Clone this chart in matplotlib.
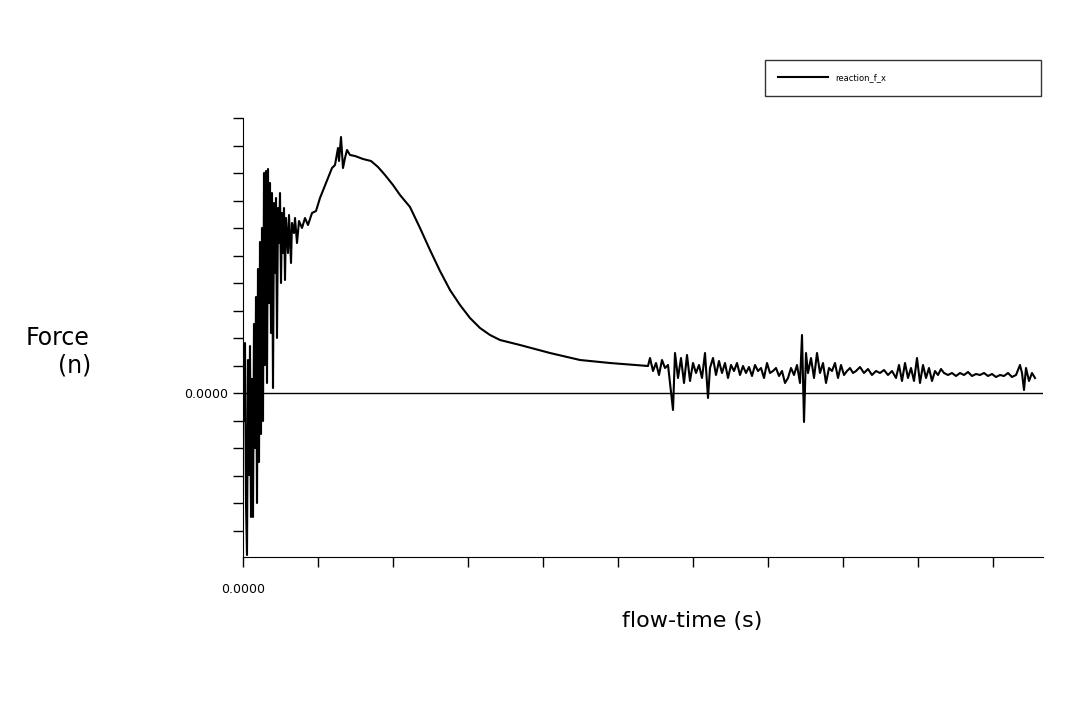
import matplotlib
matplotlib.use("Agg")
import matplotlib.pyplot as plt
from matplotlib.ticker import MultipleLocator, FixedLocator

# flow-time in arbitrary units (axis spans 0..800), force in arbitrary units (zero at 0)
flow_time = [
    0, 1, 2, 3, 4, 5, 6, 7, 8, 9, 10, 11, 12, 13, 14, 15, 16, 17, 18, 19, 20,
    21, 22, 23, 24, 25, 26, 27, 28, 29, 30, 31, 32, 33, 34, 35, 36, 37, 38, 39,
    40, 41, 42, 43, 45, 46, 48, 49, 51, 52, 54, 56, 59, 62, 65, 69, 73, 77, 81,
    85, 89, 92, 95, 96, 98, 100, 102, 104, 107, 112, 120, 128, 135, 142, 150,
    157, 167, 177, 187, 197, 207, 217, 227, 237, 247, 257, 277, 307, 337, 367, 405,
    407, 410, 413, 416, 419, 422, 425, 427, 430, 432, 435, 438, 441, 444, 447,
    450, 453, 456, 459, 462, 465, 467, 470, 473, 476, 479, 482, 485, 488, 491,
    494, 497, 500, 503, 506, 509, 512, 515, 518, 521, 524, 527, 530, 533, 536,
    539, 542, 545, 548, 551, 554, 557, 559, 561, 563, 565, 568, 571, 574, 577,
    580, 583, 586, 589, 592, 595, 598, 601, 604, 607, 610, 613, 617, 621, 625,
    629, 633, 637, 641, 645, 649, 653, 656, 659, 662, 665, 668, 671, 674, 677,
    680, 683, 686, 689, 692, 695, 698, 701, 705, 709, 713, 717, 721, 725, 729,
    733, 737, 741, 745, 749, 753, 757, 761, 765, 769, 773, 777, 779, 781, 783,
    786, 789, 792,
]
force = [
    41, -28, 50, -110, -162, 33, -82, 47, -124, 14, -124, 69, -55, 96, -110,
    124, -69, 151, -41, 165, -28, 220, 28, 222, 10, 224, 90, 210, 60, 200, 5,
    190, 120, 195, 55, 185, 150, 200, 110, 180, 140, 185, 113, 175, 140, 178,
    130, 170, 160, 175, 150, 172, 165, 175, 168, 180, 182, 195, 205, 215, 225,
    228, 245, 232, 256, 225, 235, 243, 238, 237, 234, 232, 226, 218, 208, 198,
    186, 165, 143, 122, 103, 88, 75, 65, 58, 53, 48, 40, 33, 30, 27,
    35, 22, 30, 18, 33, 25, 28, 10, -17, 40, 15, 35, 10, 38, 12, 30, 20, 28,
    15, 40, -5, 25, 35, 18, 32, 20, 30, 15, 28, 22, 30, 18, 27, 20, 26, 17,
    28, 22, 25, 15, 30, 20, 22, 25, 17, 22, 10, 15, 25, 18, 28, 10, 58, -29,
    40, 20, 35, 15, 40, 20, 30, 10, 25, 22, 30, 15, 28, 18, 22, 25, 20, 22,
    26, 20, 24, 18, 22, 20, 23, 18, 22, 15, 28, 12, 30, 15, 25, 12, 35, 10,
    28, 15, 25, 12, 22, 18, 24, 20, 18, 20, 17, 20, 18, 21, 17, 19, 18, 20,
    17, 19, 16, 18, 17, 20, 16, 18, 28, 20, 3, 25, 12, 20, 15,
]

fig = plt.figure(figsize=(10.8, 7.2), dpi=100)
ax = fig.add_axes([243 / 1080, 1 - 557 / 720, 800 / 1080, 439 / 720])

ax.plot(flow_time, force, color="black", lw=1.5, label="reaction_f_x")
ax.axhline(0, color="black", lw=1.0)

ax.set_xlim(0, 800)
ax.set_ylim(-164, 275)
for s in ["top", "right"]:
    ax.spines[s].set_visible(False)

ax.xaxis.set_major_locator(FixedLocator([0]))
ax.xaxis.set_minor_locator(MultipleLocator(75))
ax.yaxis.set_major_locator(FixedLocator([0]))
ax.yaxis.set_minor_locator(MultipleLocator(27.5))
ax.set_xticklabels(["0.0000"])
ax.set_yticklabels(["0.0000"])
ax.tick_params(which="both", direction="out", length=7, width=1, labelsize=9)
ax.tick_params(axis="x", which="both", pad=12)

fig.text(58 / 1080, 1 - 338 / 720, "Force", fontsize=17, ha="center", va="center")
fig.text(75 / 1080, 1 - 366 / 720, "(n)", fontsize=17, ha="center", va="center")
fig.text(692 / 1080, 1 - 621 / 720, "flow-time (s)", fontsize=16, ha="center",
         va="center")

leg = ax.legend(loc="upper left", bbox_to_anchor=(765 / 1080, 1 - 108 / 720,
                276 / 1080, 48 / 720), bbox_transform=fig.transFigure,
                mode="expand", frameon=True, fancybox=False, fontsize=6,
                handlelength=6, borderpad=1.6, borderaxespad=0)
leg.get_frame().set_edgecolor("black")
leg.get_frame().set_linewidth(1.0)

fig.savefig("out.png", dpi=100)
